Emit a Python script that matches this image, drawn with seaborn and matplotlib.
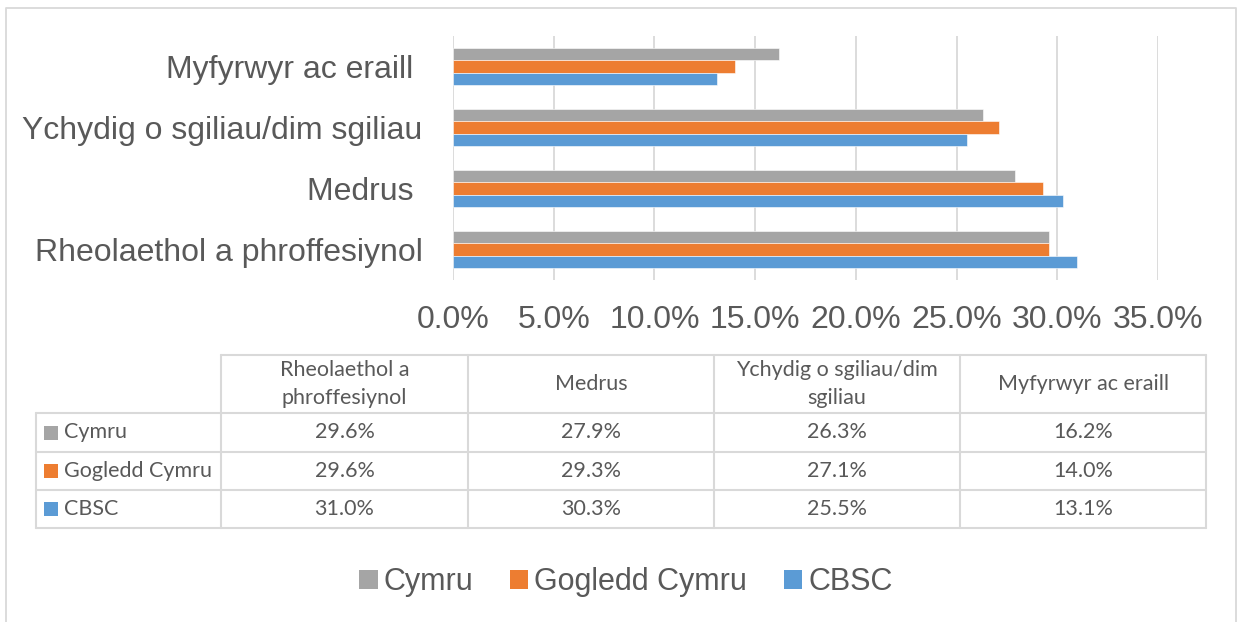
import numpy as np
import pandas as pd
import matplotlib
matplotlib.use('Agg')
import matplotlib.pyplot as plt
from matplotlib.patches import Rectangle, Patch
from matplotlib.ticker import PercentFormatter
import seaborn as sns

# data (table order)
categories = ['Rheolaethol a phroffesiynol', 'Medrus ', 'Ychydig o sgiliau/dim sgiliau', 'Myfyrwyr ac eraill ']
header_labels = ['Rheolaethol a\nphroffesiynol', 'Medrus', 'Ychydig o sgiliau/dim\nsgiliau', 'Myfyrwyr ac eraill']
series = ['Cymru', 'Gogledd Cymru', 'CBSC']
cymru = [29.6, 27.9, 26.3, 16.2]
gogledd_cymru = [29.6, 29.3, 27.1, 14.0]
cbsc = [31.0, 30.3, 25.5, 13.1]
colors = ['#A5A5A5', '#ED7D31', '#5B9BD5']

TEXT = '#595959'
GRID = '#D9D9D9'

values = [cymru, gogledd_cymru, cbsc]
rows = []
for s, vals in zip(series, values):
    for c, v in zip(categories, vals):
        rows.append({'category': c, 'series': s, 'value': v / 100})
df = pd.DataFrame(rows)

sns.set_style('white')
plt.rcParams['font.family'] = ['Liberation Sans', 'DejaVu Sans']

W, H = 1240, 622
fig = plt.figure(figsize=(W / 100, H / 100), dpi=100)

# helper canvas for table, border
tax = fig.add_axes([0, 0, 1, 1])
tax.set_xlim(0, W)
tax.set_ylim(H, 0)
tax.axis('off')

ax = fig.add_axes([453 / W, 1 - 280 / H, (1158 - 453) / W, (280 - 36) / H])
sns.barplot(data=df, y='category', x='value', hue='series', order=categories[::-1],
            hue_order=series, palette=colors, saturation=1, orient='h', width=0.61, gap=0,
            edgecolor='white', linewidth=0.4, legend=False, ax=ax)
ax.set_xlim(0, 0.35)
ax.set_xticks(np.arange(0, 0.351, 0.05))
ax.xaxis.set_major_formatter(PercentFormatter(1.0, decimals=1))
ax.grid(axis='x', color=GRID, linewidth=1.3)
ax.set_axisbelow(True)
for sp in ax.spines.values():
    sp.set_visible(False)
ax.set_xlabel('')
ax.set_ylabel('')
ax.tick_params(axis='x', length=0, pad=18, labelsize=23, labelcolor=TEXT)
ax.tick_params(axis='y', length=0, pad=22, labelsize=23, labelcolor=TEXT)
ax.patch.set_alpha(0)

# outer border
tax.plot([6, 6, 1236, 1236], [H + 5, 8, 8, H + 5], color=GRID, lw=1.3)

# data table
col_x = [221, 468, 714, 960, 1206]
row_y = [355, 413, 452, 490, 528]
left = 36
tfont = ['Lato', 'DejaVu Sans']
tsize = 15.5
# horizontal lines
tax.plot([col_x[0], col_x[-1]], [row_y[0], row_y[0]], color=GRID, lw=1.5)
for y in row_y[1:]:
    tax.plot([left, col_x[-1]], [y, y], color=GRID, lw=1.5)
# vertical lines
for x in col_x:
    tax.plot([x, x], [row_y[0], row_y[-1]], color=GRID, lw=1.5)
tax.plot([left, left], [row_y[1], row_y[-1]], color=GRID, lw=1.5)

for j, lab in enumerate(header_labels):
    cx = (col_x[j] + col_x[j + 1]) / 2
    tax.text(cx, (row_y[0] + row_y[1]) / 2, lab, ha='center', va='center',
             fontsize=tsize, color=TEXT, family=tfont, linespacing=1.45)

for i, (s, vals) in enumerate(zip(series, values)):
    cy = (row_y[i + 1] + row_y[i + 2]) / 2
    tax.add_patch(Rectangle((44, cy - 7), 14, 14, color=colors[i], lw=0))
    tax.text(64, cy, s, ha='left', va='center', fontsize=tsize, color=TEXT, family=tfont)
    for j, v in enumerate(vals):
        cx = (col_x[j] + col_x[j + 1]) / 2
        tax.text(cx, cy, f'{v:.1f}%', ha='center', va='center', fontsize=tsize,
                 color=TEXT, family=tfont)

# legend
handles = [Patch(facecolor=c, edgecolor='none', label=s) for s, c in zip(series, colors)]
fig.legend(handles=handles, loc='center', bbox_to_anchor=(626 / W, 1 - 582 / H), ncol=3,
           frameon=False, fontsize=22, labelcolor=TEXT, handlelength=0.6, handleheight=0.6,
           handletextpad=0.2, columnspacing=1.2)

fig.savefig('out.png', dpi=100)
